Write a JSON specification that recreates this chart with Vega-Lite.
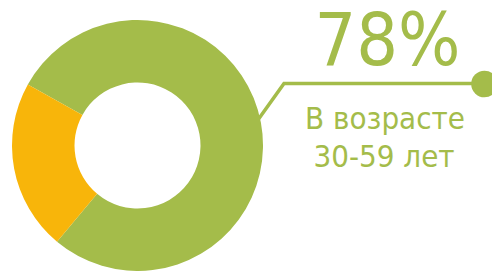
{
  "$schema": "https://vega.github.io/schema/vega-lite/v6.json",
  "width": 492,
  "height": 271,
  "padding": 0,
  "autosize": "none",
  "background": "white",
  "config": {"view": {"stroke": null}},
  "datasets": {
    "share": [
      {"group": "В возрасте 30-59 лет", "value": 78},
      {"group": "Другие", "value": 22}
    ],
    "connector": [
      {"px": 250, "py": 131, "ord": 1},
      {"px": 284, "py": 83.5, "ord": 2},
      {"px": 484, "py": 83.5, "ord": 3}
    ],
    "dot": [{"px": 484.5, "py": 84}],
    "labels": [
      {"px": 387.5, "py": 65, "text": "78%", "kind": "big"},
      {"px": 385, "py": 129, "text": "В возрасте", "kind": "small"},
      {"px": 384, "py": 167, "text": "30-59 лет", "kind": "small"}
    ]
  },
  "layer": [
    {
      "data": {"name": "connector"},
      "mark": {"type": "line", "color": "#A4BC4A", "strokeWidth": 3.5, "strokeJoin": "miter"},
      "encoding": {
        "x": {"field": "px", "type": "quantitative", "scale": {"domain": [0, 492], "nice": false, "zero": false}, "axis": null},
        "y": {"field": "py", "type": "quantitative", "scale": {"domain": [0, 271], "nice": false, "zero": false, "reverse": true}, "axis": null},
        "order": {"field": "ord"}
      }
    },
    {
      "data": {"name": "share"},
      "mark": {"type": "arc", "radius": 125.5, "radius2": 63},
      "encoding": {
        "x": {"datum": 137.5, "type": "quantitative"},
        "y": {"datum": 145.5, "type": "quantitative"},
        "theta": {"field": "value", "type": "quantitative", "stack": true, "scale": {"range": [5.22, 11.5032]}},
        "order": {"field": "value", "sort": "descending"},
        "color": {"field": "group", "type": "nominal", "scale": {"domain": ["В возрасте 30-59 лет", "Другие"], "range": ["#A4BC4A", "#F8B50A"]}, "legend": null}
      }
    },
    {
      "data": {"name": "dot"},
      "mark": {"type": "circle", "size": 707, "color": "#A4BC4A", "opacity": 1},
      "encoding": {
        "x": {"field": "px", "type": "quantitative"},
        "y": {"field": "py", "type": "quantitative"}
      }
    },
    {
      "data": {"name": "labels"},
      "transform": [{"filter": "datum.kind === 'big'"}],
      "mark": {"type": "text", "font": "DejaVu Sans Condensed", "fontSize": 73, "color": "#A4BC4A", "align": "center", "baseline": "alphabetic"},
      "encoding": {
        "x": {"field": "px", "type": "quantitative"},
        "y": {"field": "py", "type": "quantitative"},
        "text": {"field": "text"}
      }
    },
    {
      "data": {"name": "labels"},
      "transform": [{"filter": "datum.kind === 'small'"}],
      "mark": {"type": "text", "font": "DejaVu Sans Condensed", "fontSize": 31, "color": "#A4BC4A", "align": "center", "baseline": "alphabetic"},
      "encoding": {
        "x": {"field": "px", "type": "quantitative"},
        "y": {"field": "py", "type": "quantitative"},
        "text": {"field": "text"}
      }
    }
  ]
}
